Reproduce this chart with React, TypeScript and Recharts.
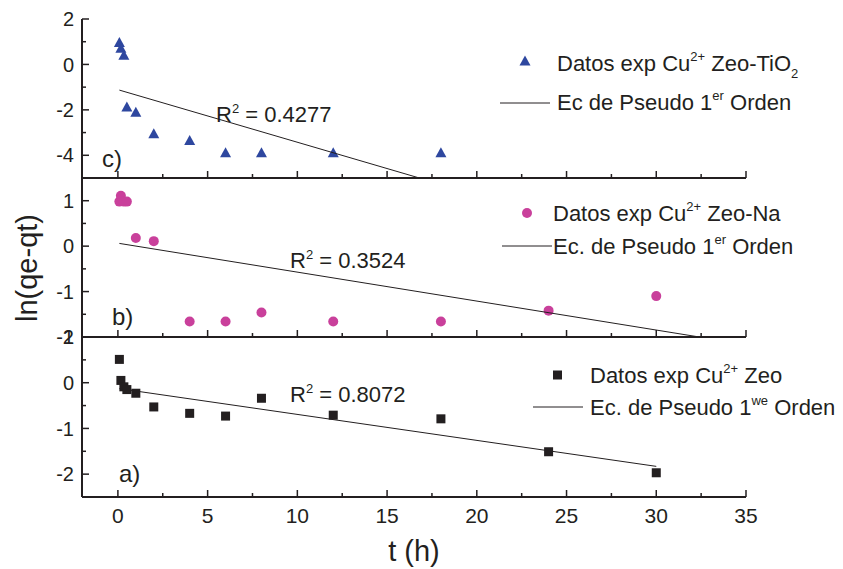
import React from 'react';
import { ScatterChart, Scatter, XAxis, YAxis, Legend, Customized } from 'recharts';

// ---------- data ----------
// c) Zeo-TiO2
const timesTi = [0.083, 0.167, 0.333, 0.5, 1, 2, 4, 6, 8, 12, 18];
const lnTi = [0.97, 0.71, 0.4, -1.87, -2.11, -3.05, -3.35, -3.89, -3.89, -3.89, -3.89];
const fitTiT = [0.083, 16.8];
const fitTiV = [-1.13, -5.0];
// b) Zeo-Na
const timesNa = [0.083, 0.167, 0.333, 0.5, 1, 2, 4, 6, 8, 12, 18, 24, 30];
const lnNa = [0.98, 1.11, 0.98, 0.98, 0.18, 0.11, -1.66, -1.66, -1.46, -1.66, -1.66, -1.42, -1.1];
const fitNaT = [0.083, 32.4];
const fitNaV = [0.06, -2.0];
// a) Zeo
const timesZeo = [0.083, 0.167, 0.333, 0.5, 1, 2, 4, 6, 8, 12, 18, 24, 30];
const lnZeo = [0.51, 0.05, -0.09, -0.15, -0.23, -0.53, -0.67, -0.73, -0.34, -0.71, -0.79, -1.51, -1.97];
const fitZeoT = [0.083, 30];
const fitZeoV = [-0.13, -1.83];

const xTicks = [0, 2.5, 5, 7.5, 10, 12.5, 15, 17.5, 20, 22.5, 25, 27.5, 30, 32.5, 35];
const yTicksC = [-5, -4, -3, -2, -1, 0, 1, 2];
const yMajorC = [-4, -2, 0, 2];
const yTicksB = [-2, -1.5, -1, -0.5, 0, 0.5, 1, 1.5];
const yMajorB = [-2, -1, 0, 1];
const yTicksA = [-2.5, -2, -1.5, -1, -0.5, 0, 0.5, 1];
const yMajorA = [-2, -1, 0, 1];

const pts = (t: number[], v: number[]) => t.map((x, i) => ({ t: x, v: v[i] }));

// ---------- style ----------
const W = 843;
const H = 569;
const FONT = '"Liberation Sans", Arial, Helvetica, sans-serif';
const INK = '#231f20';
const BLUE = '#2e479f';
const MAGENTA = '#c9409b';
const LF = 22;

const Tri = (p: any) => (
  <path d={`M${p.cx},${p.cy - 5.5} L${p.cx + 5.5},${p.cy + 4.5} L${p.cx - 5.5},${p.cy + 4.5} Z`} fill={BLUE} />
);
const Dot = (p: any) => <circle cx={p.cx} cy={p.cy} r={5} fill={MAGENTA} />;
const Sq = (p: any) => <rect x={p.cx - 4.5} y={p.cy - 4.5} width={9} height={9} fill={INK} />;
const NoShape = () => <g />;

const YTick = (p: any) => {
  const v = p.payload.value;
  const major = p.majors.includes(v);
  return (
    <g>
      <line x1={p.x} x2={p.x + (major ? 7 : 4)} y1={p.y} y2={p.y} stroke={INK} strokeWidth={1.5} />
      {major && (
        <text x={p.x - 8} y={p.y} dy="0.36em" textAnchor="end" fontSize={20} fontFamily={FONT} fill={INK}>
          {String(v)}
        </text>
      )}
    </g>
  );
};

const XTick = (p: any) => {
  const v = p.payload.value;
  const major = v % 5 === 0;
  return (
    <g>
      <line x1={p.x} x2={p.x} y1={p.y} y2={p.y - (major ? 7 : 4)} stroke={INK} strokeWidth={1.5} />
      {p.showLabels && major && (
        <text x={p.x} y={p.y + 18} dy="0.36em" textAnchor="middle" fontSize={21} fontFamily={FONT} fill={INK}>
          {String(v)}
        </text>
      )}
    </g>
  );
};

const txt = { fontFamily: FONT, fill: INK } as const;

const LegendC = () => (
  <svg width={W} height={H} style={{ position: 'absolute', left: 0, top: 0, overflow: 'visible' }}>
    <path d="M525,55.5 L530.5,65.5 L519.5,65.5 Z" fill={BLUE} />
    <text x={557} y={71} fontSize={LF} {...txt}>
      Datos exp Cu<tspan dy={-10} fontSize={13}>2+</tspan>
      <tspan dy={10} fontSize={LF}> Zeo-TiO</tspan>
      <tspan dy={7} fontSize={13}>2</tspan>
    </text>
    <line x1={500} x2={550} y1={103} y2={103} stroke={INK} strokeWidth={1} />
    <text x={557} y={110} fontSize={LF} {...txt}>
      Ec de Pseudo 1<tspan dy={-10} fontSize={13}>er</tspan>
      <tspan dy={10} fontSize={LF}> Orden</tspan>
    </text>
  </svg>
);

const LegendB = () => (
  <svg width={W} height={H} style={{ position: 'absolute', left: 0, top: 0, overflow: 'visible' }}>
    <circle cx={527} cy={213} r={5} fill={MAGENTA} />
    <text x={553} y={221} fontSize={LF} {...txt}>
      Datos exp Cu<tspan dy={-10} fontSize={13}>2+</tspan>
      <tspan dy={10} fontSize={LF}> Zeo-Na</tspan>
    </text>
    <line x1={502} x2={552} y1={246} y2={246} stroke={INK} strokeWidth={1} />
    <text x={553} y={254} fontSize={LF} {...txt}>
      Ec. de Pseudo 1<tspan dy={-10} fontSize={13}>er</tspan>
      <tspan dy={10} fontSize={LF}> Orden</tspan>
    </text>
  </svg>
);

const LegendA = () => (
  <svg width={W} height={H} style={{ position: 'absolute', left: 0, top: 0, overflow: 'visible' }}>
    <rect x={553} y={370.5} width={9} height={9} fill={INK} />
    <text x={590} y={383} fontSize={LF} {...txt}>
      Datos exp Cu<tspan dy={-10} fontSize={13}>2+</tspan>
      <tspan dy={10} fontSize={LF}> Zeo</tspan>
    </text>
    <line x1={533} x2={583} y1={407} y2={407} stroke={INK} strokeWidth={1} />
    <text x={590} y={415} fontSize={LF} {...txt}>
      Ec. de Pseudo 1<tspan dy={-10} fontSize={13}>we</tspan>
      <tspan dy={10} fontSize={LF}> Orden</tspan>
    </text>
  </svg>
);

const R2 = ({ x, y, val }: { x: number; y: number; val: string }) => (
  <text x={x} y={y} fontSize={22} {...txt}>
    R<tspan dy={-9} fontSize={13}>2</tspan>
    <tspan dy={9} fontSize={22}> = {val}</tspan>
  </text>
);

const AnnC = () => (
  <g>
    <text x={102} y={167} fontSize={24} {...txt}>c)</text>
    <R2 x={216} y={122} val="0.4277" />
  </g>
);
const AnnB = () => (
  <g>
    <text x={112} y={325} fontSize={24} {...txt}>b)</text>
    <R2 x={290} y={268} val="0.3524" />
  </g>
);
const AnnA = () => (
  <g>
    <text x={119} y={482} fontSize={24} {...txt}>a)</text>
    <R2 x={290} y={402} val="0.8072" />
    <text x={414} y={561} fontSize={29} textAnchor="middle" {...txt}>t (h)</text>
    <text x={37} y={268} fontSize={29} textAnchor="middle" transform="rotate(-90, 37, 268)" {...txt}>
      ln(qe-qt)
    </text>
  </g>
);

type PanelProps = {
  top: number;
  bottom: number;
  domain: [number, number];
  yTicks: number[];
  yMajor: number[];
  data: { t: number; v: number }[];
  fit: { t: number; v: number }[];
  shape: any;
  showX: boolean;
  legend: any;
  ann: any;
  name: string;
};

const Panel = (p: PanelProps) => (
  <div style={{ position: 'absolute', left: 0, top: 0 }}>
    <ScatterChart width={W} height={H} margin={{ top: p.top, right: 97, bottom: H - p.bottom - 30, left: 22 }}>
      <XAxis
        type="number"
        dataKey="t"
        domain={[-2, 35]}
        ticks={xTicks}
        interval={0}
        height={30}
        tickSize={0}
        tickMargin={0}
        tickLine={false}
        axisLine={{ stroke: INK, strokeWidth: 2 }}
        tick={(tp: any) => <XTick {...tp} showLabels={p.showX} />}
      />
      <YAxis
        type="number"
        dataKey="v"
        domain={p.domain}
        ticks={p.yTicks}
        interval={0}
        width={60}
        tickSize={0}
        tickMargin={0}
        tickLine={false}
        axisLine={{ stroke: INK, strokeWidth: 2 }}
        tick={(tp: any) => <YTick {...tp} majors={p.yMajor} />}
      />
      <Scatter name={p.name} data={p.data} shape={p.shape} isAnimationActive={false} />
      <Scatter
        name="fit"
        data={p.fit}
        fill={INK}
        line={{ stroke: INK, strokeWidth: 1 }}
        shape={NoShape}
        isAnimationActive={false}
      />
      <Legend
        layout="horizontal"
        verticalAlign="middle"
        align="center"
        content={p.legend}
        wrapperStyle={{ position: 'absolute', left: 0, top: 0, width: W, height: H }}
      />
      <Customized component={p.ann} />
    </ScatterChart>
  </div>
);

export default function App() {
  return (
    <div style={{ position: 'absolute', left: 0, top: 0, width: W, height: H, background: '#fff' }}>
      <Panel
        top={19}
        bottom={178}
        domain={[-5, 2]}
        yTicks={yTicksC}
        yMajor={yMajorC}
        data={pts(timesTi, lnTi)}
        fit={pts(fitTiT, fitTiV)}
        shape={Tri}
        showX={false}
        legend={() => <LegendC />}
        ann={AnnC}
        name="Zeo-TiO2"
      />
      <Panel
        top={178}
        bottom={337}
        domain={[-2, 1.5]}
        yTicks={yTicksB}
        yMajor={yMajorB}
        data={pts(timesNa, lnNa)}
        fit={pts(fitNaT, fitNaV)}
        shape={Dot}
        showX={false}
        legend={() => <LegendB />}
        ann={AnnB}
        name="Zeo-Na"
      />
      <Panel
        top={337}
        bottom={497}
        domain={[-2.5, 1]}
        yTicks={yTicksA}
        yMajor={yMajorA}
        data={pts(timesZeo, lnZeo)}
        fit={pts(fitZeoT, fitZeoV)}
        shape={Sq}
        showX={true}
        legend={() => <LegendA />}
        ann={AnnA}
        name="Zeo"
      />
    </div>
  );
}
